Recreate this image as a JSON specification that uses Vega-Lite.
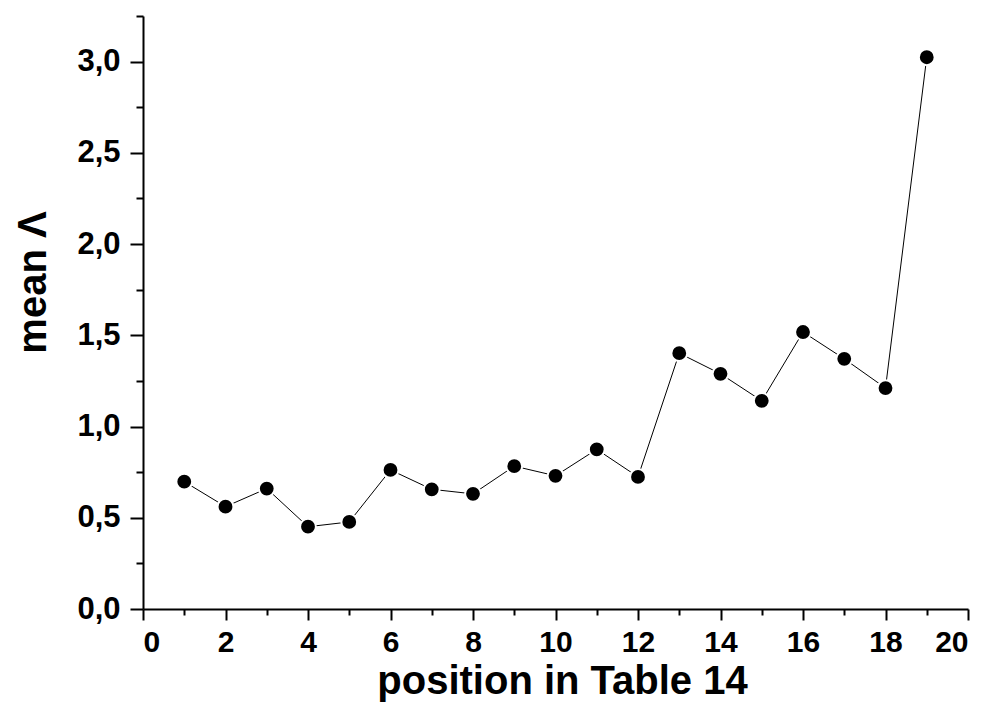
{
  "$schema": "https://vega.github.io/schema/vega-lite/v6.json",
  "width": 825,
  "height": 593,
  "autosize": {"type": "none"},
  "padding": {"left": 143, "top": 16, "right": 23, "bottom": 95},
  "background": "white",
  "config": {
    "locale": {"number": {"decimal": ",", "thousands": ".", "grouping": [3], "currency": ["", ""]}},
    "view": {"stroke": null},
    "axis": {
      "grid": false,
      "domainColor": "black",
      "tickColor": "black",
      "domainWidth": 2,
      "tickWidth": 2,
      "labelFont": "Liberation Sans",
      "labelFontWeight": "bold",
      "labelFontSize": 31,
      "labelColor": "black",
      "titleFont": "Liberation Sans",
      "titleFontWeight": "bold",
      "titleFontSize": 40,
      "titleColor": "black"
    }
  },
  "data": {
    "values": [
      {"position": 1, "mean": 0.698},
      {"position": 2, "mean": 0.561},
      {"position": 3, "mean": 0.660},
      {"position": 4, "mean": 0.451},
      {"position": 5, "mean": 0.477},
      {"position": 6, "mean": 0.762},
      {"position": 7, "mean": 0.656},
      {"position": 8, "mean": 0.631},
      {"position": 9, "mean": 0.783},
      {"position": 10, "mean": 0.730},
      {"position": 11, "mean": 0.875},
      {"position": 12, "mean": 0.724},
      {"position": 13, "mean": 1.402},
      {"position": 14, "mean": 1.289},
      {"position": 15, "mean": 1.141},
      {"position": 16, "mean": 1.518},
      {"position": 17, "mean": 1.371},
      {"position": 18, "mean": 1.211},
      {"position": 19, "mean": 3.024}
    ]
  },
  "layer": [
    {
      "mark": {"type": "line", "color": "black", "strokeWidth": 1},
      "encoding": {
        "x": {
          "field": "position",
          "type": "quantitative",
          "scale": {"domain": [0, 20], "nice": false, "zero": false},
          "axis": {
            "orient": "bottom",
            "values": [0, 2, 4, 6, 8, 10, 12, 14, 16, 18, 20],
            "format": "d",
            "tickSize": 11,
            "labelPadding": 7,
            "labelFontSize": 30,
            "title": "position in Table 14",
            "titlePadding": 4,
            "titleX": 419
          }
        },
        "y": {
          "field": "mean",
          "type": "quantitative",
          "scale": {"domain": [0, 3.25], "nice": false},
          "axis": {
            "orient": "left",
            "values": [0, 0.5, 1, 1.5, 2, 2.5, 3],
            "format": ".1f",
            "tickSize": 13,
            "labelPadding": 10,
            "title": "mean Λ",
            "titlePadding": 23,
            "titleY": 266
          }
        }
      }
    },
    {
      "mark": {"type": "circle", "fill": "black", "stroke": "white", "strokeWidth": 2, "size": 250, "opacity": 1},
      "encoding": {
        "x": {
          "field": "position",
          "type": "quantitative",
          "axis": {
            "orient": "bottom",
            "values": [1, 3, 5, 7, 9, 11, 13, 15, 17, 19],
            "labels": false,
            "domain": false,
            "tickSize": 6,
            "title": null
          }
        },
        "y": {
          "field": "mean",
          "type": "quantitative",
          "axis": {
            "orient": "left",
            "values": [0.25, 0.75, 1.25, 1.75, 2.25, 2.75, 3.25],
            "labels": false,
            "domain": false,
            "tickSize": 7,
            "title": null
          }
        }
      }
    }
  ],
  "resolve": {"axis": {"x": "independent", "y": "independent"}}
}
